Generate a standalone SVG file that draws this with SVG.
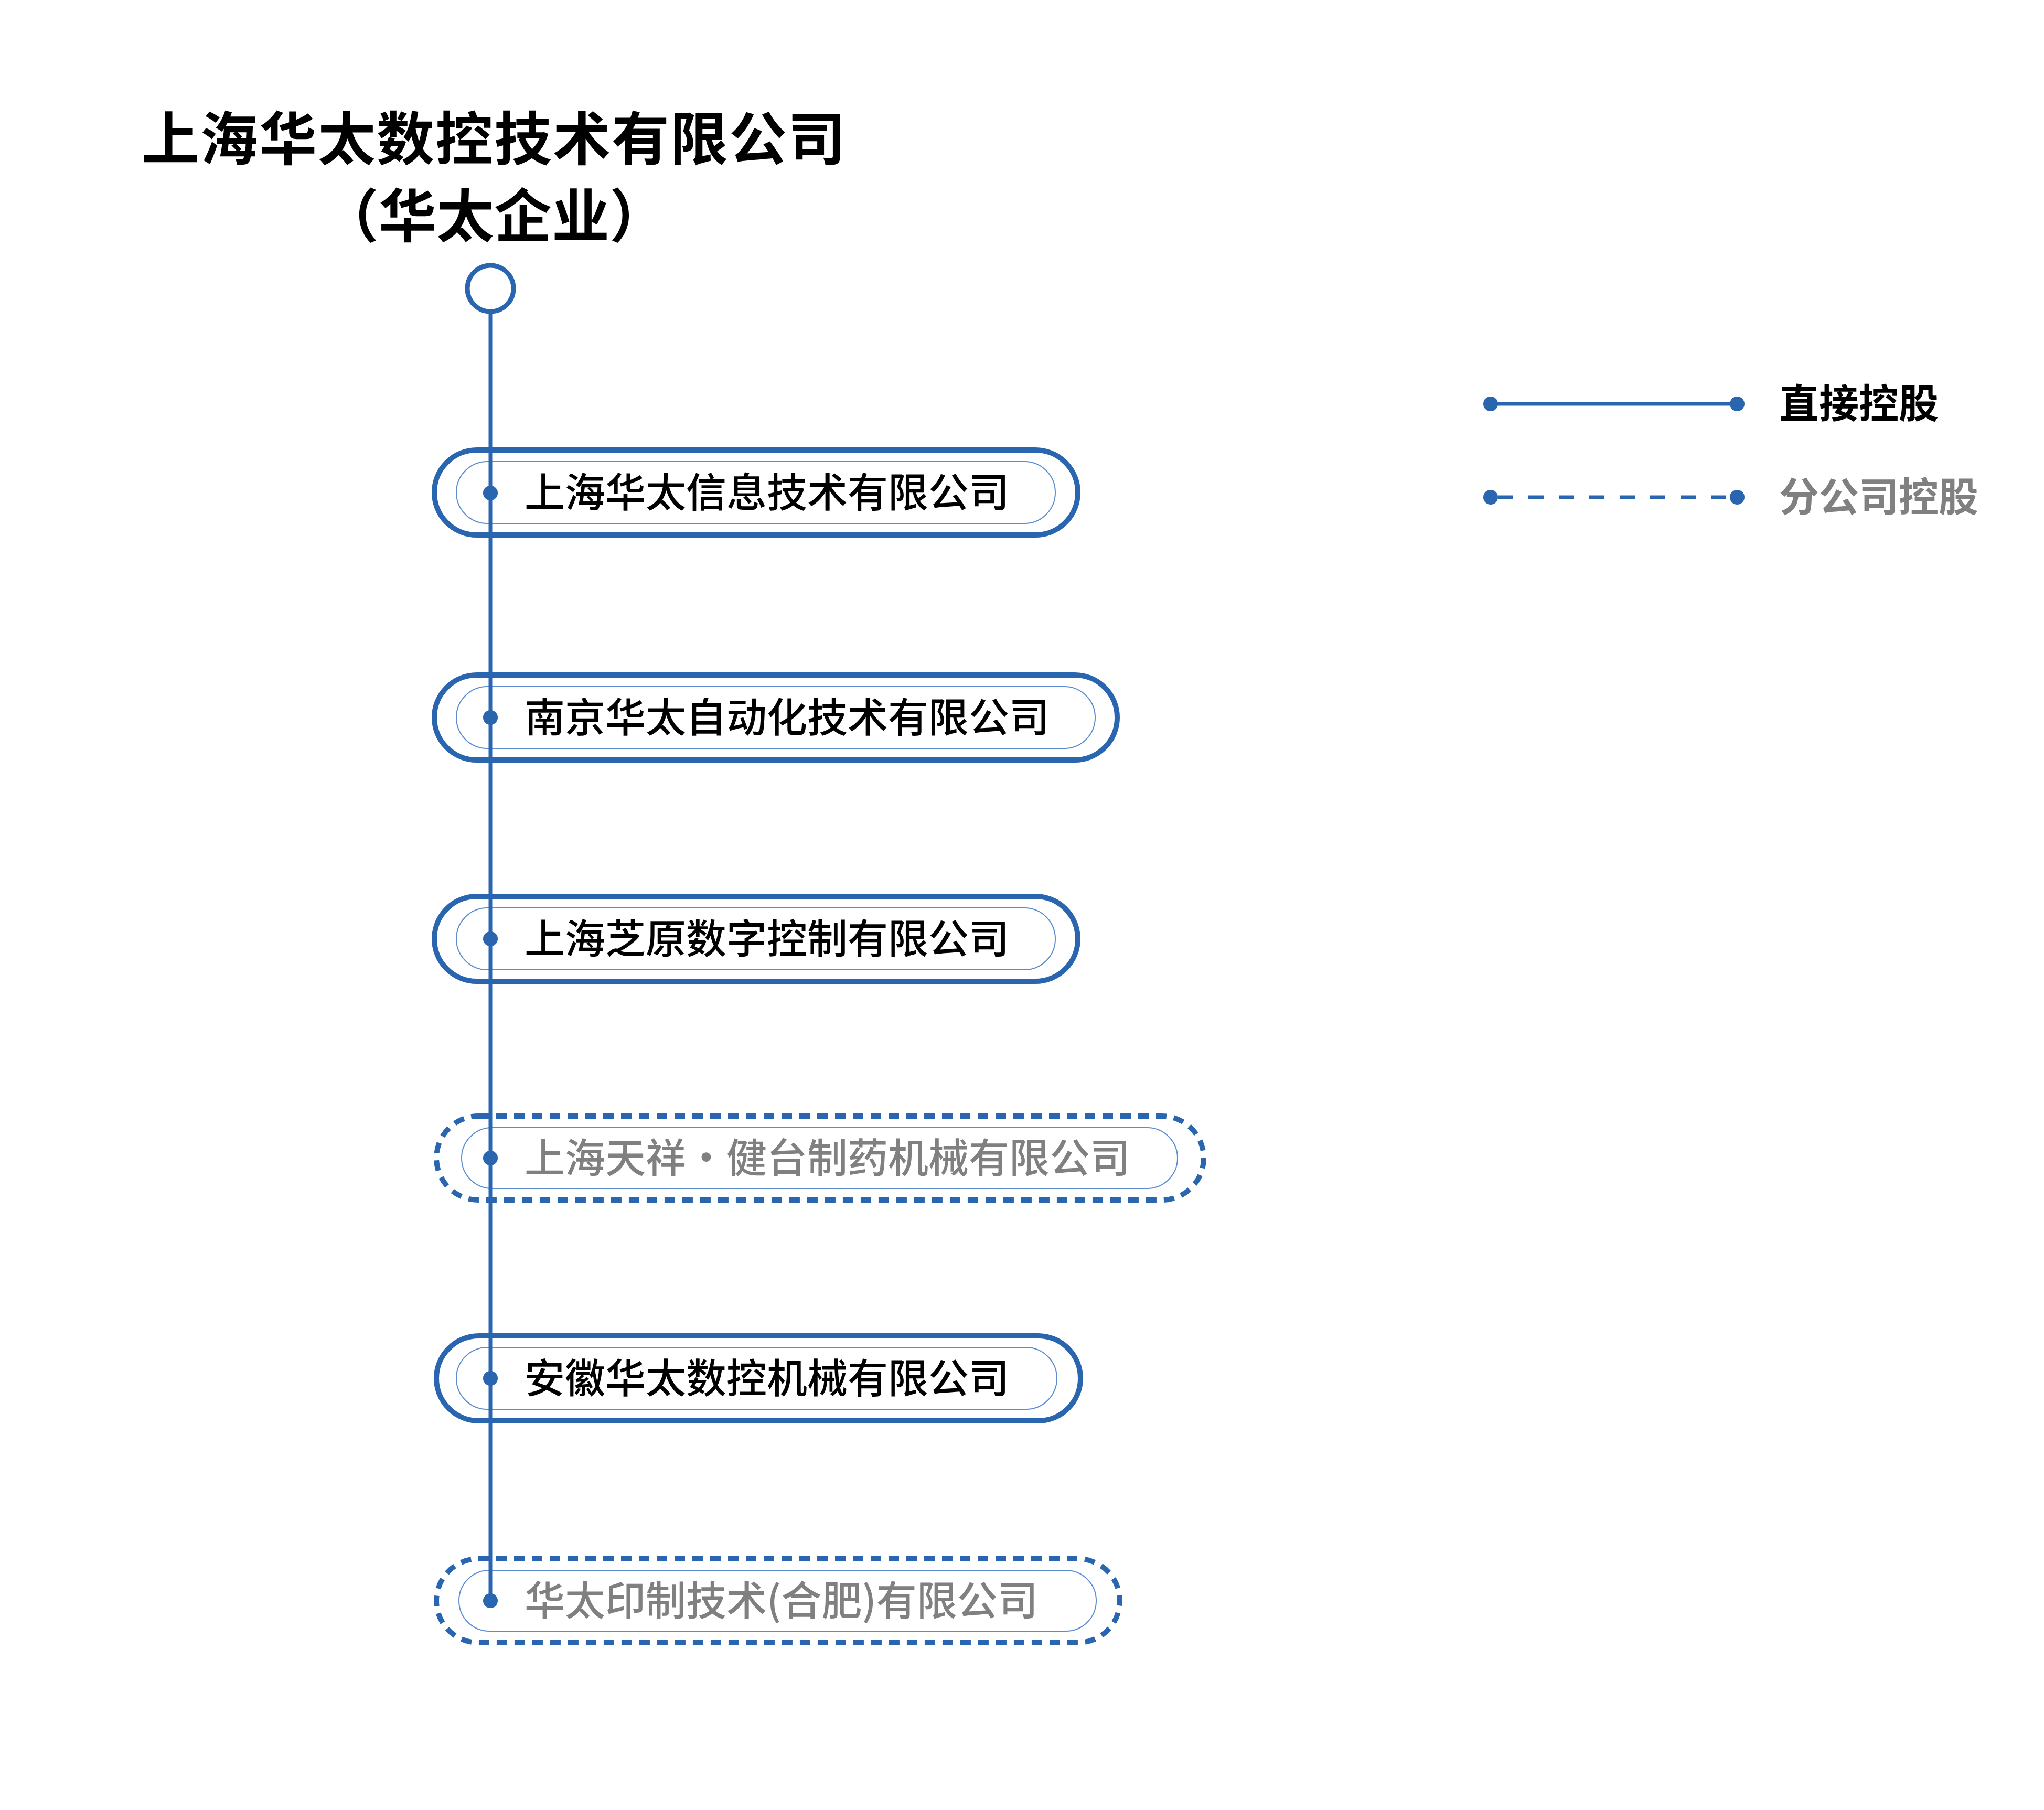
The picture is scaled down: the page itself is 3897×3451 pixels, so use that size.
<svg xmlns="http://www.w3.org/2000/svg" width="3897" height="3451" viewBox="0 0 3897 3451">
<style>
.t{font-family:"Noto Sans CJK SC","Liberation Sans",sans-serif}
.title{font-size:110px;font-weight:700;fill:#000;text-anchor:middle}
.lbl{font-size:77px;font-weight:500}
.dir{fill:#000}
.br{fill:#808080}
.outer{fill:#fff;stroke:#2A65B0;stroke-width:10}
.dash{stroke-dasharray:20 14}
.inner{fill:none;stroke:#5A8CD0;stroke-width:2}
.ln{stroke:#2A65B0;stroke-width:7;fill:none}
.dot{fill:#2A65B0}
</style>
<rect width="3897" height="3451" fill="#fff"/>
<g id="root">
<text class="t title" x="942" y="305" letter-spacing="2">上海华太数控技术有限公司</text>
<text class="t title" x="942" y="452">（华太企业）</text>
<circle cx="935" cy="550" r="44" fill="#fff" stroke="#2A65B0" stroke-width="9"/>
</g>
<g id="n1"><rect class="outer" x="828" y="858" width="1227" height="162" rx="81"/><rect class="inner" x="870" y="880" width="1142" height="118" rx="59"/><text class="t lbl dir" x="1000" y="967">上海华太信息技术有限公司</text></g>
<g id="n2"><rect class="outer" x="828" y="1287" width="1302" height="162" rx="81"/><rect class="inner" x="870" y="1309" width="1218" height="118" rx="59"/><text class="t lbl dir" x="1000" y="1396">南京华太自动化技术有限公司</text></g>
<g id="n3"><rect class="outer" x="828" y="1709" width="1227" height="162" rx="81"/><rect class="inner" x="870" y="1731" width="1142" height="118" rx="59"/><text class="t lbl dir" x="1000" y="1818">上海芝原数字控制有限公司</text></g>
<g id="n4"><rect class="outer dash" x="832" y="2128" width="1463" height="160" rx="80"/><rect class="inner" x="880" y="2150" width="1365" height="116" rx="58"/><text class="t lbl br" x="1000" y="2236">上海天祥·健台制药机械有限公司</text></g>
<g id="n5"><rect class="outer" x="832" y="2547" width="1228" height="162" rx="81"/><rect class="inner" x="870" y="2569" width="1145" height="118" rx="59"/><text class="t lbl dir" x="1000" y="2656">安徽华太数控机械有限公司</text></g>
<g id="n6"><rect class="outer dash" x="832" y="2972" width="1303" height="160" rx="80"/><rect class="inner" x="875" y="2994" width="1215" height="116" rx="58"/><text class="t lbl br" x="1000" y="3080">华太印制技术(合肥)有限公司</text></g>
<g id="connectors">
<line class="ln" x1="935" y1="594" x2="935" y2="3052"/>
<circle class="dot" cx="935" cy="940" r="14"/>
<circle class="dot" cx="935" cy="1368" r="14"/>
<circle class="dot" cx="935" cy="1790" r="14"/>
<circle class="dot" cx="935" cy="2208" r="14"/>
<circle class="dot" cx="935" cy="2628" r="14"/>
<circle class="dot" cx="935" cy="3052" r="14"/>
</g>
<g id="legend">
<line class="ln" x1="2842" y1="770" x2="3312" y2="770"/>
<circle class="dot" cx="2842" cy="770" r="14"/><circle class="dot" cx="3312" cy="770" r="14"/>
<text class="t" x="3392" y="797" font-size="76" font-weight="700" fill="#000">直接控股</text>
<line class="ln" x1="2842" y1="948" x2="3312" y2="948" stroke-dasharray="29 29" stroke-dashoffset="-14"/>
<circle class="dot" cx="2842" cy="948" r="14"/><circle class="dot" cx="3312" cy="948" r="14"/>
<text class="t" x="3392" y="975" font-size="76" font-weight="700" fill="#808080">分公司控股</text>
</g>
</svg>
